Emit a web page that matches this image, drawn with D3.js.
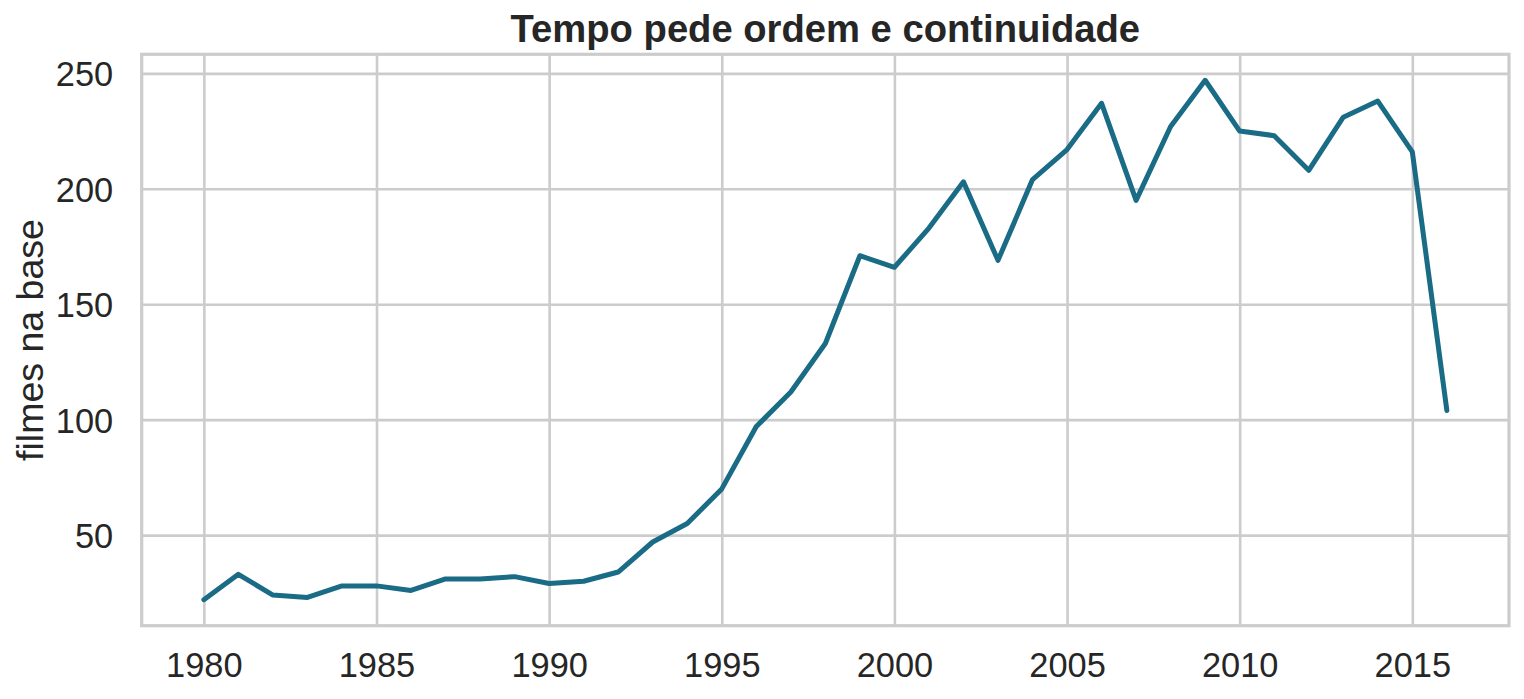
<!DOCTYPE html>
<html>
<head>
<meta charset="utf-8">
<script src="https://cdn.jsdelivr.net/npm/d3@7"></script>
<style>
  html, body { margin: 0; padding: 0; background: #ffffff; }
  svg { display: block; font-family: "Liberation Sans", Arial, sans-serif; }
</style>
</head>
<body>
<svg id="chart" width="1524" height="699"></svg>
<script>
// ---- data ----
const years = [1980,1981,1982,1983,1984,1985,1986,1987,1988,1989,
               1990,1991,1992,1993,1994,1995,1996,1997,1998,1999,
               2000,2001,2002,2003,2004,2005,2006,2007,2008,2009,
               2010,2011,2012,2013,2014,2015,2016];
const films = [22,33,24,23,28,28,26,31,31,32,
               29,30,34,47,55,70,97,112,133,171,
               166,183,203,169,204,217,237,195,227,247,
               225,223,208,231,238,216,104];
const xTicks = [1980,1985,1990,1995,2000,2005,2010,2015];
const yTicks = [50,100,150,200,250];
const titleText = "Tempo pede ordem e continuidade";
const yLabelText = "filmes na base";

// ---- layout ----
const svg = d3.select("#chart");
const L = 141.7, R = 1509, T = 54.3, B = 625.7;
const textColor = "#262626";
const gridColor = "#cccccc";
const lineColor = "#1a6b86";

const xMin = d3.min(years), xMax = d3.max(years);
const xPad = (xMax - xMin) * 0.05;
const yMin = d3.min(films), yMax = d3.max(films);
const yPad = (yMax - yMin) * 0.05;

const x = d3.scaleLinear().domain([xMin - xPad, xMax + xPad]).range([L, R]);
const y = d3.scaleLinear().domain([yMin - yPad, yMax + yPad]).range([B, T]);

// grid via axes
const gx = svg.append("g")
  .attr("transform", `translate(0,${B})`)
  .call(d3.axisBottom(x).tickValues(xTicks).tickSize(-(B - T)).tickFormat(d3.format("d")).tickPadding(0));
gx.select(".domain").remove();
gx.selectAll(".tick line").attr("stroke", gridColor).attr("stroke-width", 2.6);
gx.selectAll(".tick text")
  .attr("fill", textColor)
  .attr("font-size", 34.4)
  .attr("dy", null)
  .attr("y", 51.5)
  .attr("font-family", "'Liberation Sans', Arial, sans-serif");

const gy = svg.append("g")
  .attr("transform", `translate(${L},0)`)
  .call(d3.axisLeft(y).tickValues(yTicks).tickSize(-(R - L)).tickFormat(d3.format("d")).tickPadding(0));
gy.select(".domain").remove();
gy.selectAll(".tick line").attr("stroke", gridColor).attr("stroke-width", 2.6);
gy.selectAll(".tick text")
  .attr("fill", textColor)
  .attr("font-size", 34.4)
  .attr("x", -28.5)
  .attr("dy", "0.36em")
  .attr("font-family", "'Liberation Sans', Arial, sans-serif");

// spines
svg.append("rect")
  .attr("x", L).attr("y", T)
  .attr("width", R - L).attr("height", B - T)
  .attr("fill", "none")
  .attr("stroke", gridColor)
  .attr("stroke-width", 3.2);

// line
const line = d3.line()
  .x((d, i) => x(years[i]))
  .y(d => y(d));

svg.append("path")
  .datum(films)
  .attr("d", line)
  .attr("fill", "none")
  .attr("stroke", lineColor)
  .attr("stroke-width", 5)
  .attr("stroke-linejoin", "round")
  .attr("stroke-linecap", "round");

// title
svg.append("text")
  .attr("x", (L + R) / 2)
  .attr("y", 42)
  .attr("text-anchor", "middle")
  .attr("font-size", 38.2)
  .attr("font-weight", "bold")
  .attr("fill", textColor)
  .text(titleText);

// y label
svg.append("text")
  .attr("transform", `translate(43,${(T + B) / 2}) rotate(-90)`)
  .attr("text-anchor", "middle")
  .attr("font-size", 37.5)
  .attr("fill", textColor)
  .text(yLabelText);
</script>
</body>
</html>
